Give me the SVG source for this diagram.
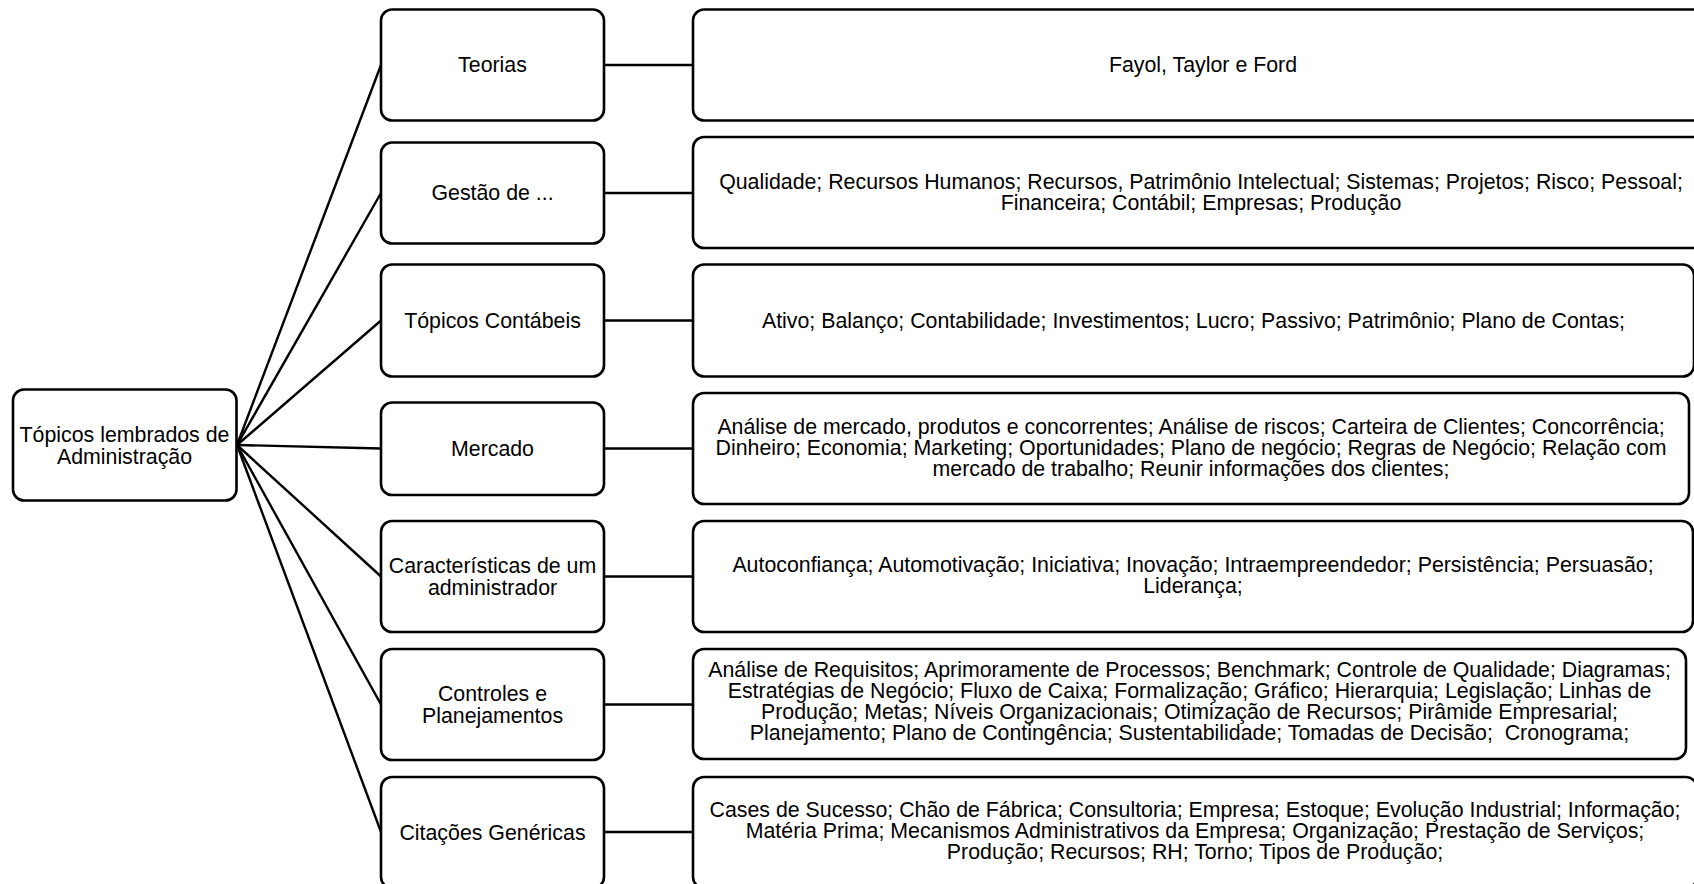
<svg xmlns="http://www.w3.org/2000/svg" width="1694" height="884" viewBox="0 0 1694 884">
<style>
.box{fill:#ffffff;stroke:#000000;stroke-width:2.6}
.ln{stroke:#000000;stroke-width:2.4;fill:none}
text{font-family:"Liberation Sans",Arial,sans-serif;font-size:21.33px;fill:#000000;text-anchor:middle}
</style>
<rect x="0" y="0" width="1694" height="884" fill="#ffffff"/>
<g id="connectors">
<line class="ln" x1="237" y1="445" x2="381" y2="65"/>
<line class="ln" x1="237" y1="445" x2="381" y2="193"/>
<line class="ln" x1="237" y1="445" x2="381" y2="320.5"/>
<line class="ln" x1="237" y1="445" x2="381" y2="448.5"/>
<line class="ln" x1="237" y1="445" x2="381" y2="576.5"/>
<line class="ln" x1="237" y1="445" x2="381" y2="704.5"/>
<line class="ln" x1="237" y1="445" x2="381" y2="832"/>
<line class="ln" x1="604" y1="65" x2="693" y2="65"/>
<line class="ln" x1="604" y1="193" x2="693" y2="193"/>
<line class="ln" x1="604" y1="320.5" x2="693" y2="320.5"/>
<line class="ln" x1="604" y1="448.5" x2="693" y2="448.5"/>
<line class="ln" x1="604" y1="576.5" x2="693" y2="576.5"/>
<line class="ln" x1="604" y1="704.5" x2="693" y2="704.5"/>
<line class="ln" x1="604" y1="832" x2="693" y2="832"/>
</g>
<g id="root">
<rect class="box" x="13" y="389.5" width="223.5" height="111" rx="11"/>
<text x="124.5" y="441.7">Tópicos lembrados de</text>
<text x="124.5" y="464">Administração</text>
</g>
<g id="teorias">
<rect class="box" x="381" y="9.5" width="223" height="111" rx="11"/>
<text x="492.5" y="72.3">Teorias</text>
</g>
<g id="gestao">
<rect class="box" x="381" y="142.5" width="223" height="101" rx="11"/>
<text x="492.5" y="200.3">Gestão de ...</text>
</g>
<g id="topicos-contabeis">
<rect class="box" x="381" y="264.5" width="223" height="112" rx="11"/>
<text x="492.5" y="328">Tópicos Contábeis</text>
</g>
<g id="mercado">
<rect class="box" x="381" y="402.5" width="223" height="92.5" rx="11"/>
<text x="492.5" y="456">Mercado</text>
</g>
<g id="caracteristicas">
<rect class="box" x="381" y="521" width="223" height="111" rx="11"/>
<text x="492.5" y="572.5">Características de um</text>
<text x="492.5" y="594.5">administrador</text>
</g>
<g id="controles">
<rect class="box" x="381" y="649" width="223" height="111" rx="11"/>
<text x="492.5" y="700.5">Controles e</text>
<text x="492.5" y="722.5">Planejamentos</text>
</g>
<g id="citacoes">
<rect class="box" x="381" y="777" width="223" height="111" rx="11"/>
<text x="492.5" y="839.5">Citações Genéricas</text>
</g>
<g id="teorias-detail">
<rect class="box" x="693" y="9.5" width="1020" height="111" rx="11"/>
<text x="1203" y="72.3">Fayol, Taylor e Ford</text>
</g>
<g id="gestao-detail">
<rect class="box" x="693" y="137" width="1016" height="111" rx="11"/>
<text x="1201" y="189">Qualidade; Recursos Humanos; Recursos, Patrimônio Intelectual; Sistemas; Projetos; Risco; Pessoal;</text>
<text x="1201" y="210">Financeira; Contábil; Empresas; Produção</text>
</g>
<g id="topicos-contabeis-detail">
<rect class="box" x="693" y="264.5" width="1001" height="112" rx="11"/>
<text x="1193.5" y="328">Ativo; Balanço; Contabilidade; Investimentos; Lucro; Passivo; Patrimônio; Plano de Contas;</text>
</g>
<g id="mercado-detail">
<rect class="box" x="693" y="393" width="996" height="111" rx="11"/>
<text x="1191" y="433.5">Análise de mercado, produtos e concorrentes; Análise de riscos; Carteira de Clientes; Concorrência;</text>
<text x="1191" y="454.5">Dinheiro; Economia; Marketing; Oportunidades; Plano de negócio; Regras de Negócio; Relação com</text>
<text x="1191" y="475.5">mercado de trabalho; Reunir informações dos clientes;</text>
</g>
<g id="caracteristicas-detail">
<rect class="box" x="693" y="521" width="1000" height="111" rx="11"/>
<text x="1193" y="572">Autoconfiança; Automotivação; Iniciativa; Inovação; Intraempreendedor; Persistência; Persuasão;</text>
<text x="1193" y="593">Liderança;</text>
</g>
<g id="controles-detail">
<rect class="box" x="693" y="649" width="993" height="110" rx="11"/>
<text x="1189.5" y="677">Análise de Requisitos; Aprimoramente de Processos; Benchmark; Controle de Qualidade; Diagramas;</text>
<text x="1189.5" y="698">Estratégias de Negócio; Fluxo de Caixa; Formalização; Gráfico; Hierarquia; Legislação; Linhas de</text>
<text x="1189.5" y="719">Produção; Metas; Níveis Organizacionais; Otimização de Recursos; Pirâmide Empresarial;</text>
<text x="1189.5" y="740" xml:space="preserve">Planejamento; Plano de Contingência; Sustentabilidade; Tomadas de Decisão;  Cronograma;</text>
</g>
<g id="citacoes-detail">
<rect class="box" x="693" y="777" width="1004" height="111" rx="11"/>
<text x="1195" y="817">Cases de Sucesso; Chão de Fábrica; Consultoria; Empresa; Estoque; Evolução Industrial; Informação;</text>
<text x="1195" y="838">Matéria Prima; Mecanismos Administrativos da Empresa; Organização; Prestação de Serviços;</text>
<text x="1195" y="859">Produção; Recursos; RH; Torno; Tipos de Produção;</text>
</g>
</svg>
